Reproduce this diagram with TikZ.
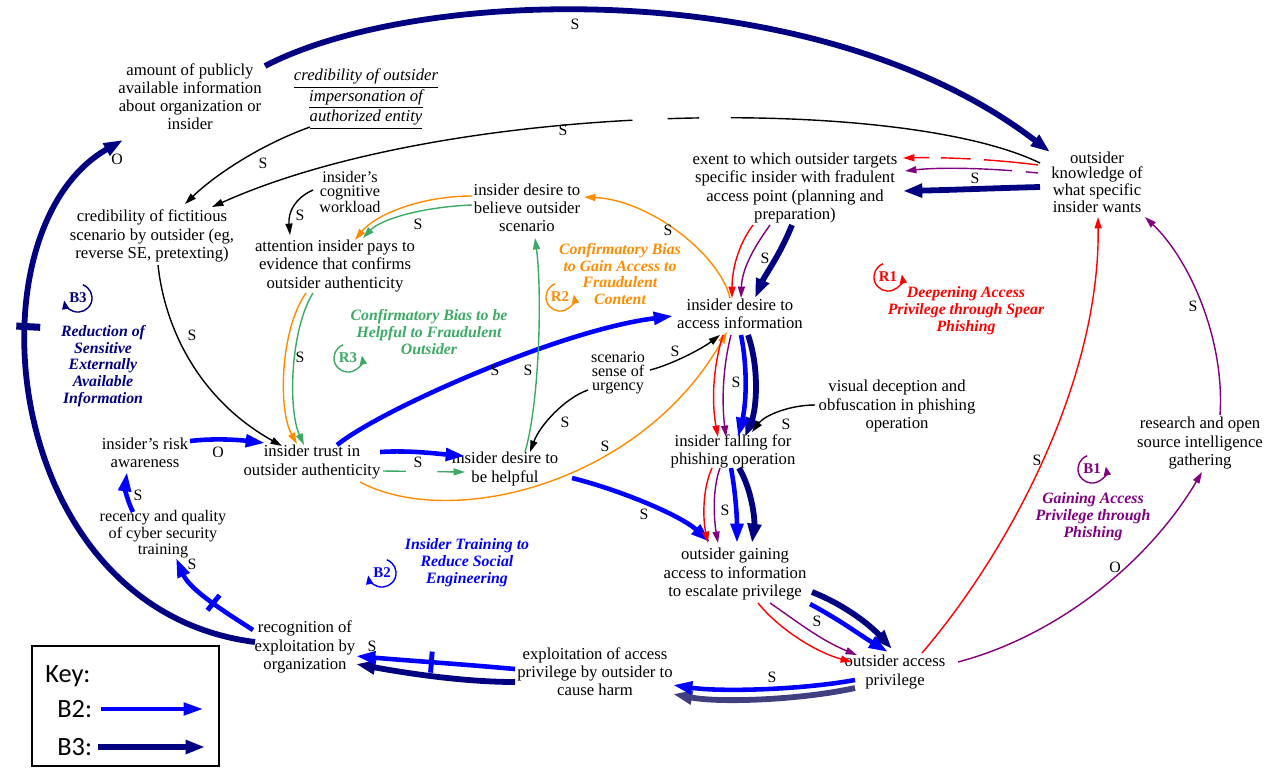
\documentclass[tikz,border=0pt]{standalone}
\usepackage{fontspec}
\setmainfont{Liberation Serif}
\newfontfamily\keyfont{Carlito}
\usetikzlibrary{arrows.meta,calc}

\definecolor{loopnavy}{RGB}{0,0,128}
\definecolor{loopblue}{RGB}{0,0,255}
\definecolor{looporange}{RGB}{255,140,0}
\definecolor{loopgreen}{RGB}{60,170,100}
\definecolor{loopred}{RGB}{255,0,0}
\definecolor{looppurple}{RGB}{128,0,128}
\definecolor{loopslate}{RGB}{64,64,128}

\begin{document}
\begin{tikzpicture}[x=0.02cm,y=-0.02cm,
		var/.style={align=center,inner sep=1pt,font=\fontsize{9.5}{10.3}\selectfont},
		squeezed/.style={font=\fontsize{9.2}{8}\selectfont},
		loopname/.style={align=center,inner sep=1pt,font=\fontsize{9}{9.6}\selectfont\bfseries\itshape},
		loopsym/.style={inner sep=0pt,font=\fontsize{8.5}{9}\selectfont\bfseries},
		pol/.style={inner sep=1pt,font=\fontsize{9}{9}\selectfont},
		keytext/.style={anchor=west,inner sep=0pt,font=\keyfont\fontsize{15}{18}\selectfont},
		arrowthin/.style={line width=0.8pt,-{Triangle[length=6.5pt,width=4pt]}},
		arrowB2/.style={loopblue,line width=2.6pt,-{Triangle[length=11pt,width=7pt]}},
		arrowB3/.style={loopnavy,line width=3.3pt,-{Triangle[length=11pt,width=7.5pt]}},
		delaymark/.style={sloped,inner sep=0pt,minimum width=2.8pt,minimum height=11pt}]
	\useasboundingbox (0,0) rectangle (1283,768);

	\node[var] (amount) at (190,97) {amount of publicly\\available information\\about organization or\\insider};
	\node[var,font=\fontsize{9.5}{10.3}\selectfont\itshape] (credimp) at (366,99) {\underline{credibility of outsider}\\\underline{impersonation of}\\\underline{authorized entity}};
	\node[var] (credfic) at (152,236) {credibility of fictitious\\scenario by outsider (eg,\\reverse SE, pretexting)};
	\node[var,squeezed] (workload) at (350,192) {insider's\\cognitive\\workload};
	\node[var] (attention) at (335,266) {attention insider pays to\\evidence that confirms\\outsider authenticity};
	\node[var] (believe) at (527,208) {insider desire to\\believe outsider\\scenario};
	\node[var] (extent) at (795,188) {exent to which outsider targets\\specific insider with fradulent\\access point (planning and\\preparation)};
	\node[var,font=\fontsize{9.5}{8.6}\selectfont] (knowledge) at (1097,182) {outsider\\knowledge of\\what specific\\insider wants};
	\node[var] (accinfo) at (740,314) {insider desire to\\access information};
	\node[var,squeezed] (urgency) at (618,373) {scenario\\sense of\\urgency};
	\node[var] (visual) at (897,406) {visual deception and\\obfuscation in phishing\\operation};
	\node[var] (falling) at (733,451) {insider falling for\\phishing operation};
	\node[var] (risk) at (145,453) {insider's risk\\awareness};
	\node[var] (trust) at (312,462) {insider trust in\\outsider authenticity};
	\node[var] (helpful) at (505,469) {insider desire to\\be helpful};
	\node[var,font=\fontsize{9.2}{7.4}\selectfont] (training) at (163,534) {recency and quality\\of cyber security\\training};
	\node[var] (gaining) at (735,574) {outsider gaining\\access to information\\to escalate privilege};
	\node[var] (privilege) at (895,672) {outsider access\\privilege};
	\node[var] (exploit) at (595,672) {exploitation of access\\privilege by outsider to\\cause harm};
	\node[var] (recognition) at (305,647) {recognition of\\exploitation by\\organization};
	\node[var] (research) at (1200,443) {research and open\\source intelligence\\gathering};

	\node[loopname,loopnavy] (nameB3) at (103,366) {Reduction of\\Sensitive\\Externally\\Available\\Information};
	\node[loopname,loopgreen] (nameR3) at (429,332) {Confirmatory Bias to be\\Helpful to Fraudulent\\Outsider};
	\node[loopname,looporange] (nameR2) at (620,274) {Confirmatory Bias\\to Gain Access to\\Fraudulent\\Content};
	\node[loopname,loopred] (nameR1) at (966,311) {Deepening Access\\Privilege through Spear\\Phishing};
	\node[loopname,looppurple] (nameB1) at (1093,517) {Gaining Access\\Privilege through\\Phishing};
	\node[loopname,loopblue] (nameB2) at (467,563) {Insider Training to\\Reduce Social\\Engineering};
	\foreach \nm/\px/\py/\col/\a/\b in {R3/348/358/loopgreen/110/370, R2/560/297/looporange/110/370, R1/888/277/loopred/110/370, B1/1092/469/looppurple/110/370, B2/382/573/loopblue/70/-170, B3/78/298/loopnavy/70/-170}{
		\node[loopsym,text=\col] (sym\nm) at (\px,\py) {\nm};
		\draw[color=\col,line width=0.8pt,-{Triangle[length=5pt,width=4pt]}] ($(sym\nm.center)+(\a:8pt)$) arc[start angle=\a,end angle=\b,radius=8pt];
	}

	\draw[arrowB3] ($(amount)+(75,-31)$) .. controls (420,-15) and (820,-25) .. ($(knowledge)+(-47,-30)$);
	\draw[arrowB3] ($(recognition)+(-50,-5)$) .. controls (0,610) and (-35,230) .. ($(amount)+(-67,43)$) node[delaymark,pos=0.63,fill=loopnavy,minimum width=4pt,minimum height=13.6pt] (tickB3) {};
	\draw[arrowB3] ($(knowledge)+(-57,5)$) .. controls (1000,188) and (950,190) .. ($(extent)+(108,3)$);
	\draw[arrowB3] ($(extent)+(-3,37)$) .. controls (780,255) and (765,275) .. ($(accinfo)+(15,-16)$);
	\draw[arrowB3] ($(accinfo)+(8,21)$) .. controls (760,370) and (756,410) .. ($(falling)+(12,-14)$);
	\draw[arrowB3] ($(falling)+(6,17)$) .. controls (752,490) and (755,520) .. ($(gaining)+(17,-31)$);
	\draw[arrowB3] ($(gaining)+(77,18)$) .. controls (845,605) and (870,625) .. ($(privilege)+(-3,-23)$);
	\draw[arrowB3,loopslate] ($(privilege)+(-40,16)$) .. controls (800,700) and (720,703) .. ($(exploit)+(78,22)$);
	\draw[arrowB3] ($(exploit)+(-80,10)$) .. controls (460,682) and (400,672) .. ($(recognition)+(51,17)$);

	\draw[arrowB2] ($(trust)+(25,-17)$) .. controls (380,410) and (560,330) .. ($(accinfo)+(-67,2)$);
	\draw[arrowB2] ($(trust)+(68,-10)$) .. controls (410,450) and (440,454) .. ($(helpful)+(-40,-13)$);
	\draw[arrowB2] ($(helpful)+(67,9)$) .. controls (620,490) and (680,515) .. ($(gaining)+(-25,-32)$);
	\draw[arrowB2] ($(accinfo)+(1,21)$) .. controls (748,370) and (746,405) .. ($(falling)+(5,-14)$);
	\draw[arrowB2] ($(falling)+(-2,17)$) .. controls (736,495) and (737,520) .. ($(gaining)+(2,-31)$);
	\draw[arrowB2] ($(gaining)+(75,30)$) .. controls (840,620) and (860,635) .. ($(privilege)+(-7,-20)$);
	\draw[arrowB2] ($(privilege)+(-40,8)$) .. controls (800,690) and (720,692) .. ($(exploit)+(78,13)$);
	\draw[arrowB2] ($(exploit)+(-80,-3)$) .. controls (460,664) and (400,660) .. ($(recognition)+(51,9)$) node[delaymark,pos=0.5,fill=loopblue,minimum height=12pt] (tickexploit) {};
	\draw[arrowB2] ($(recognition)+(-52,-17)$) .. controls (225,612) and (190,590) .. ($(training)+(13,24)$) node[delaymark,pos=0.45,fill=loopblue] (ticktraining) {};
	\draw[arrowB2] ($(training)+(-30,-22)$) .. controls (127,500) and (125,488) .. ($(risk)+(-18,19)$);
	\draw[arrowB2] ($(risk)+(45,-12)$) .. controls (215,438) and (240,440) .. ($(trust)+(-47,-19)$);

	\draw[arrowthin,dash pattern=on 179pt off 18pt on 18pt off 20pt on 500pt off 0pt] ($(knowledge)+(-57,-19)$) .. controls (900,95) and (450,100) .. ($(credfic)+(60,-29)$);
	\draw[arrowthin] ($(credimp)+(-56,28)$) .. controls (260,145) and (215,175) .. ($(credfic)+(33,-32)$);
	\draw[arrowthin] ($(workload)+(-37,-2)$) .. controls (295,198) and (288,212) .. ($(attention)+(-45,-31)$);
	\draw[arrowthin] ($(credfic)+(6,29)$) .. controls (165,330) and (200,400) .. ($(trust)+(-30,-16)$);
	\draw[arrowthin] ($(urgency)+(32,-3)$) .. controls (670,365) and (700,350) .. ($(accinfo)+(-20,21)$);
	\draw[arrowthin] ($(urgency)+(-30,17)$) .. controls (565,398) and (540,425) .. ($(helpful)+(25,-17)$);
	\draw[arrowthin] ($(visual)+(-82,-1)$) .. controls (790,405) and (765,415) .. ($(falling)+(19,-19)$);

	\draw[arrowthin,looporange] ($(believe)+(-55,-12)$) .. controls (420,196) and (375,215) .. ($(attention)+(20,-26)$);
	\draw[arrowthin,looporange] ($(attention)+(-29,27)$) .. controls (280,330) and (278,410) .. ($(trust)+(-15,-18)$);
	\draw[arrowthin,looporange] ($(trust)+(48,20)$) .. controls (450,530) and (640,485) .. ($(accinfo)+(-13,18)$);
	\draw[arrowthin,looporange] ($(accinfo)+(-10,-16)$) .. controls (720,255) and (650,200) .. ($(believe)+(57,-11)$);

	\draw[arrowthin,loopgreen] ($(believe)+(-55,-3)$) .. controls (420,207) and (380,220) .. ($(attention)+(28,-28)$);
	\draw[arrowthin,loopgreen] ($(attention)+(-22,27)$) .. controls (290,330) and (288,410) .. ($(trust)+(-8,-17)$);
	\draw[arrowthin,loopgreen,dash pattern=on 13pt off 18pt on 40pt off 0pt] ($(trust)+(71,9)$) -- ($(helpful)+(-40,3)$);
	\draw[arrowthin,loopgreen] ($(helpful)+(20,-17)$) .. controls (540,400) and (542,290) .. ($(believe)+(8,30)$);

	\draw[arrowthin,loopred,dash pattern=on 31pt off 7.5pt on 17pt off 6.6pt on 40pt off 0pt] ($(knowledge)+(-59,-17)$) .. controls (1000,160) and (950,157) .. ($(extent)+(108,-30)$);
	\draw[arrowthin,loopred] ($(extent)+(-42,37)$) .. controls (738,245) and (732,270) .. ($(accinfo)+(-8,-16)$);
	\draw[arrowthin,loopred] ($(accinfo)+(-17,21)$) .. controls (712,370) and (712,405) .. ($(falling)+(-15,-14)$);
	\draw[arrowthin,loopred] ($(falling)+(-21,17)$) .. controls (702,490) and (703,520) .. ($(gaining)+(-27,-31)$);
	\draw[arrowthin,loopred] ($(gaining)+(23,29)$) .. controls (778,628) and (815,652) .. ($(privilege)+(-43,-10)$);
	\draw[arrowthin,loopred] ($(privilege)+(27,-19)$) .. controls (1010,550) and (1100,380) .. ($(knowledge)+(1,35)$);

	\draw[arrowthin,looppurple,dash pattern=on 7pt off 8pt on 80pt off 0pt] ($(knowledge)+(-59,-9)$) .. controls (990,168) and (940,167) .. ($(extent)+(110,-17)$);
	\draw[arrowthin,looppurple] ($(extent)+(-25,37)$) .. controls (752,250) and (742,270) .. ($(accinfo)+(1,-16)$);
	\draw[arrowthin,looppurple] ($(accinfo)+(-9,21)$) .. controls (722,370) and (722,405) .. ($(falling)+(-7,-14)$);
	\draw[arrowthin,looppurple] ($(falling)+(-13,17)$) .. controls (712,490) and (714,520) .. ($(gaining)+(-17,-31)$);
	\draw[arrowthin,looppurple] ($(gaining)+(35,29)$) .. controls (795,620) and (820,640) .. ($(privilege)+(-38,-17)$);
	\draw[arrowthin,looppurple] ($(privilege)+(63,-10)$) .. controls (1060,635) and (1150,560) .. ($(research)+(2,29)$);
	\draw[arrowthin,looppurple] ($(research)+(20,-28)$) .. controls (1225,340) and (1190,260) .. ($(knowledge)+(48,35)$);

	\foreach \px/\py [count=\i] in {575/24,563/130,263/163,300/215,192/335,300/357,418/224,668/230,765/258,975/178,495/370,528/370,675/351,565/422,736/382,786/424,418/462,605/446,644/514,725/510,817/621,772/677,372/646,192/564,138/495,1037/460,1193/306}
		\node[pol] (s\i) at (\px,\py) {S};
	\foreach \px/\py [count=\i] in {218/452,117/159,1115/567}
		\node[pol] (o\i) at (\px,\py) {O};

	\draw[line width=1.6pt] (32,646) rectangle (219,766);
	\node[keytext] (keytitle) at (45,676) {Key:};
	\node[keytext] (keyB2) at (57,709) {B2:};
	\node[keytext] (keyB3) at (57,747) {B3:};
	\coordinate (keyB2end) at (203,709);
	\coordinate (keyB3end) at (205,747);
	\draw[arrowB2,line width=2.2pt] ([xshift=5pt]keyB2.east) -- (keyB2end);
	\draw[arrowB3] ([xshift=3pt]keyB3.east) -- (keyB3end);
\end{tikzpicture}
\end{document}
